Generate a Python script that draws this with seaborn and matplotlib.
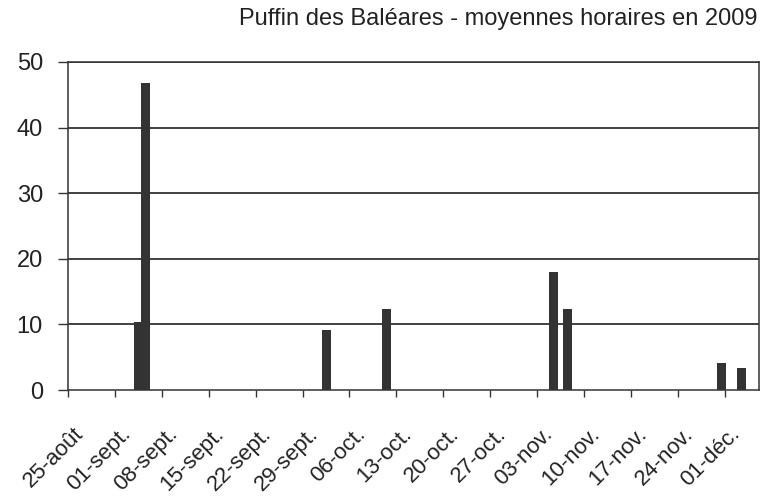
import pandas as pd
import seaborn as sns
import matplotlib.pyplot as plt
from matplotlib.transforms import ScaledTranslation

# === Data ===
start_date = pd.Timestamp("2009-08-25")
end_date = pd.Timestamp("2009-12-06")
obs_dates = ["2009-09-04", "2009-09-05", "2009-10-02", "2009-10-11",
             "2009-11-05", "2009-11-07", "2009-11-30", "2009-12-03"]
hourly_means = [10.3, 46.8, 9.1, 12.3, 18.0, 12.3, 4.1, 3.3]
tick_labels = ["25-août", "01-sept.", "08-sept.", "15-sept.", "22-sept.",
               "29-sept.", "06-oct.", "13-oct.", "20-oct.", "27-oct.",
               "03-nov.", "10-nov.", "17-nov.", "24-nov.", "01-déc."]
y_ticks = [0, 10, 20, 30, 40, 50]
title = "Puffin des Baléares - moyennes horaires en 2009"

# === Build table: day offset from 25 Aug, bar centred in its day ===
df = pd.DataFrame({"date": pd.to_datetime(obs_dates), "moyenne": hourly_means})
df["day"] = (df["date"] - start_date).dt.days + 0.5

# === Plot ===
sns.set_style("white")
plt.rcParams["font.family"] = ["Liberation Sans", "DejaVu Sans"]

fig = plt.figure(figsize=(7.69, 4.96), dpi=100)
ax = fig.add_axes([0.0884, 0.2137, 0.8986, 0.6613])

sns.barplot(data=df, x="day", y="moyenne", native_scale=True, width=1.35,
            color="#333333", saturation=1, errorbar=None, linewidth=0,
            ax=ax, zorder=3)

for y in y_ticks[1:]:
    ax.axhline(y, color="#333333", lw=1.3, zorder=1)

ax.set_xlim(0, (end_date - start_date).days + 0.1)
ax.set_ylim(0, 50)
ax.set_xticks(range(0, 7 * len(tick_labels), 7))
ax.set_xticklabels(tick_labels, rotation=45, ha="right", rotation_mode="anchor",
                   fontsize=16, color="#222222")
ax.set_yticks(y_ticks)
ax.set_yticklabels([str(v) for v in y_ticks], fontsize=17, color="#222222")
ax.tick_params(axis="y", left=True, direction="out", length=7, width=1,
               color="#333333", pad=11)
ax.tick_params(axis="x", bottom=True, direction="out", length=5, width=1,
               color="#333333", pad=19)
# Excel puts the rotated labels a little to the right of their tick
shift = ScaledTranslation(0.05, 0, fig.dpi_scale_trans)
for lab in ax.get_xticklabels():
    lab.set_transform(lab.get_transform() + shift)
ax.set_xlabel("")
ax.set_ylabel("")
for side in ["left", "bottom", "right", "top"]:
    ax.spines[side].set_visible(True)
    ax.spines[side].set_color("#333333")
    ax.spines[side].set_linewidth(1.1)

fig.text(0.985, 0.962, title, ha="right", va="center", fontsize=17, color="#222222")

fig.savefig("out.png", dpi=100, facecolor="white")
